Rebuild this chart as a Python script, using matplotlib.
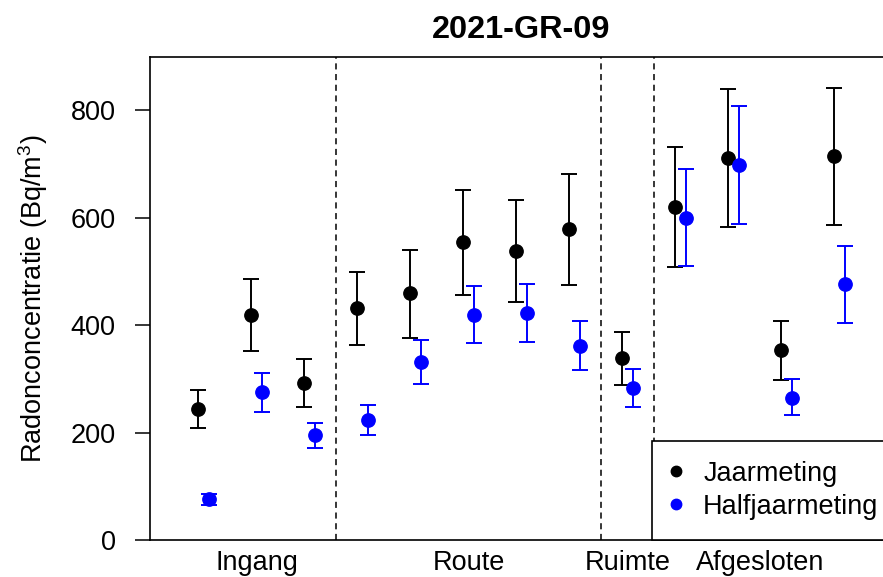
import matplotlib
matplotlib.use('Agg')
import matplotlib.pyplot as plt
from matplotlib.lines import Line2D
import numpy as np

plt.rcParams['font.family'] = ['Liberation Sans', 'DejaVu Sans']
plt.rcParams['mathtext.fontset'] = 'custom'
plt.rcParams['mathtext.rm'] = 'Liberation Sans'
plt.rcParams['mathtext.it'] = 'Liberation Sans'

# ------------------------------------------------------- #
groups = ["Ingang", "Route", "Ruimte", "Afgesloten"]
group_sizes = [3, 5, 1, 4]

jaar = [243, 418, 292, 431, 459, 554, 537, 579, 339, 620, 711, 353, 715]
jaar_lo = [208, 352, 248, 363, 376, 456, 443, 474, 288, 509, 583, 297, 587]
jaar_hi = [279, 485, 336, 499, 540, 651, 633, 682, 388, 732, 839, 408, 842]

half = [76, 275, 195, 223, 331, 419, 422, 362, 282, 600, 698, 265, 476]
half_lo = [66, 238, 171, 195, 290, 366, 368, 317, 247, 510, 589, 232, 404]
half_hi = [86, 311, 218, 251, 373, 473, 476, 407, 318, 690, 808, 299, 548]

title = "2021-GR-09"
ylabel = "Radonconcentratie (Bq/m$^3$)"
yticks = [0, 200, 400, 600, 800]

fs = 19.5
fig = plt.figure(figsize=(8.83, 5.77), dpi=100)
ax = fig.add_axes([150/883, 37/577, 742/883, 483/577])

x = np.arange(1, len(jaar) + 1)
offset = 0.2

def bars(xs, ys, lo, hi, color):
    ys = np.array(ys)
    err = [ys - np.array(lo), np.array(hi) - ys]
    ax.errorbar(xs, ys, yerr=err, fmt='o', color=color, ecolor=color,
                markersize=9.6, elinewidth=1.4, capsize=6, capthick=1.4)

bars(x, jaar, jaar_lo, jaar_hi, "black")
bars(x + offset, half, half_lo, half_hi, "blue")

# group separators
bounds = np.cumsum(group_sizes)[:-1]
for b in bounds:
    ax.axvline(b + 0.6, color="black", linestyle=(0, (4, 3)), linewidth=1.1)

starts = np.concatenate([[0], np.cumsum(group_sizes)[:-1]])
centers = [x[s:s + n].mean() + offset / 2 for s, n in zip(starts, group_sizes)]
ax.set_xticks(centers)
ax.set_xticklabels(groups, fontsize=fs)
ax.tick_params(axis='x', length=0, pad=7)

ax.set_yticks(yticks)
ax.tick_params(axis='y', labelsize=fs, length=10.8, width=1.1, pad=14)

ax.set_xlim(0.09, 14.09)
ax.set_ylim(0, 899)

for s in ["left", "top", "bottom", "right"]:
    ax.spines[s].set_linewidth(1.2)

ax.set_ylabel(ylabel, fontsize=fs, labelpad=15)
ax.set_title(title, fontsize=23.4, fontweight="bold", pad=14)

handles = [Line2D([], [], marker='o', linestyle='None', color=c, markersize=7.5)
           for c in ["black", "blue"]]
leg = ax.legend(handles, ["Jaarmeting", "Halfjaarmeting"],
                loc="lower left", bbox_to_anchor=((652 - 150) / 742, 0),
                fontsize=fs, borderaxespad=0,
                fancybox=False, edgecolor="black", framealpha=1,
                borderpad=0.74, handlelength=0.3, handletextpad=0.85,
                labelspacing=0.26)
leg.get_frame().set_linewidth(1.2)

plt.savefig("out.png", dpi=100)
plt.close()
